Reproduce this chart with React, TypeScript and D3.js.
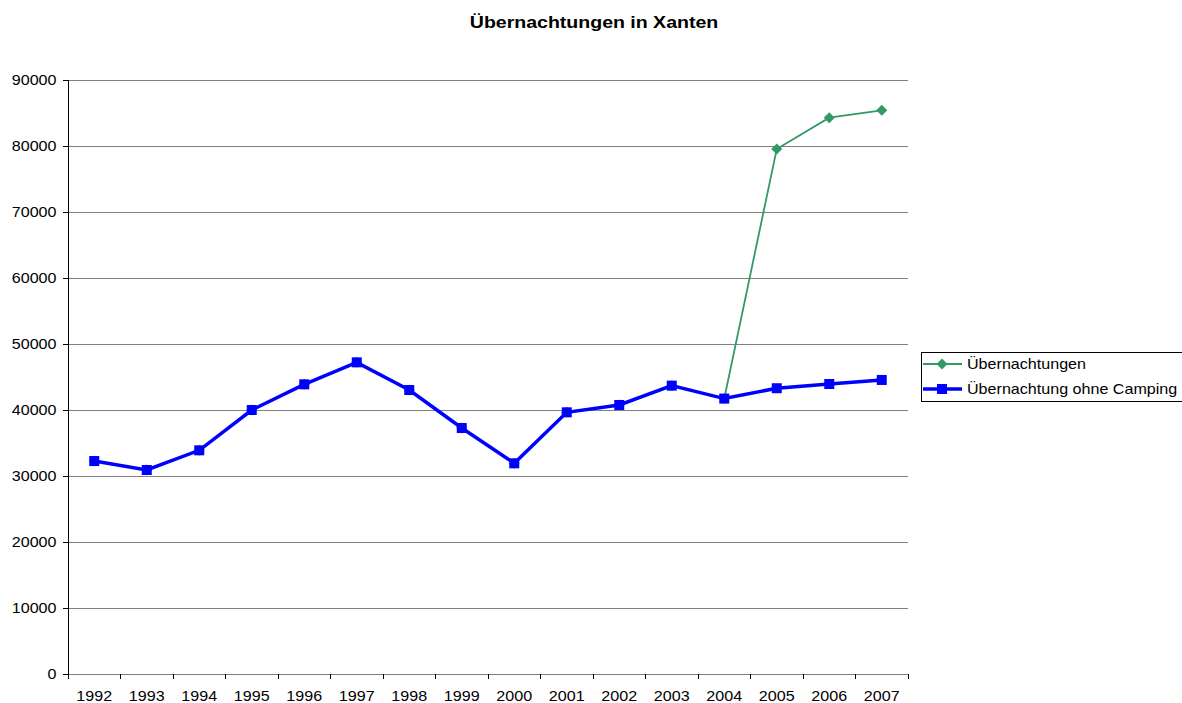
import { useRef, useEffect } from 'react';
import * as d3 from 'd3';

const years = ['1992', '1993', '1994', '1995', '1996', '1997', '1998', '1999', '2000', '2001', '2002', '2003', '2004', '2005', '2006', '2007'];
// total incl. camping; same as the other series until 2004
const uebernachtungen = [32270, 30910, 33890, 40000, 43890, 47220, 43030, 37270, 31920, 39650, 40760, 43690, 41730, 79550, 84290, 85400];
const ohneCamping = [32270, 30910, 33890, 40000, 43890, 47220, 43030, 37270, 31920, 39650, 40760, 43690, 41730, 43300, 43940, 44550];
const yTicks = [0, 10000, 20000, 30000, 40000, 50000, 60000, 70000, 80000, 90000];

const GREEN = '#339966';
const BLUE = '#0000FF';
const FONT = '"Liberation Sans", Arial, sans-serif';
const SX = 1.15; // the original text is a bit wider than Arial

export default function App() {
  const svgRef = useRef<SVGSVGElement>(null);

  useEffect(() => {
    const width = 1182, height = 703;
    const margin = { top: 80, right: 274, bottom: 29, left: 68 };
    const W = width - margin.left - margin.right;
    const H = height - margin.top - margin.bottom;

    const svg = d3.select(svgRef.current);
    svg.selectAll('*').remove();
    svg.attr('width', width).attr('height', height).style('font-family', FONT);

    svg.append('text')
      .attr('transform', `translate(594,28) scale(${SX},1)`)
      .attr('text-anchor', 'middle').attr('font-weight', 'bold').attr('font-size', 17)
      .text('Übernachtungen in Xanten');

    const g = svg.append('g').attr('transform', `translate(${margin.left},${margin.top})`);

    const x = d3.scaleBand().domain(years).range([0, W]);
    const y = d3.scaleLinear().domain([0, 90000]).range([H, 0]);
    const cx = (d: string) => (x(d) as number) + x.bandwidth() / 2;

    // Grid lines
    g.append('g').selectAll('line').data(yTicks.filter(t => t > 0)).enter().append('line')
      .attr('x1', 0).attr('x2', W)
      .attr('y1', d => y(d)).attr('y2', d => y(d))
      .attr('stroke', '#808080').attr('stroke-width', 1)
      .attr('shape-rendering', 'crispEdges');

    // Y axis
    const ya = g.append('g').call(d3.axisLeft(y).tickValues(yTicks).tickSize(5).tickPadding(5).tickFormat(d3.format('d')));
    ya.select('.domain').attr('stroke', '#000').attr('shape-rendering', 'crispEdges');
    ya.selectAll('.tick line').attr('stroke', '#000').attr('shape-rendering', 'crispEdges');
    ya.selectAll('text').attr('font-size', 14).attr('font-family', FONT).attr('fill', '#000')
      .attr('transform', `scale(${SX},1)`);

    // X axis with ticks at category boundaries
    const xa = g.append('g').attr('transform', `translate(0,${H})`)
      .call(d3.axisBottom(x).tickSize(0).tickPadding(17));
    xa.select('.domain').remove();
    xa.selectAll('text').attr('font-size', 14).attr('font-family', FONT).attr('fill', '#000')
      .attr('transform', `scale(${SX},1)`);
    g.append('line').attr('x1', 0).attr('x2', W).attr('y1', H).attr('y2', H)
      .attr('stroke', '#808080').attr('shape-rendering', 'crispEdges');
    g.append('line').attr('x1', 0).attr('x2', 0).attr('y1', H).attr('y2', H + 5)
      .attr('stroke', '#000').attr('shape-rendering', 'crispEdges');
    g.append('g').selectAll('line').data(years).enter().append('line')
      .attr('x1', d => (x(d) as number) + x.step()).attr('x2', d => (x(d) as number) + x.step())
      .attr('y1', H).attr('y2', H + 5)
      .attr('stroke', '#000').attr('shape-rendering', 'crispEdges');

    // Series: total (green) under, without camping (blue) on top
    const lineGen = d3.line<number>().x((_, i) => cx(years[i])).y(d => y(d));
    const diamond = 'M0,-5.5L5.5,0L0,5.5L-5.5,0Z';

    g.append('path').datum(uebernachtungen)
      .attr('d', lineGen).attr('fill', 'none').attr('stroke', GREEN).attr('stroke-width', 1.8);
    g.selectAll('.dia').data(uebernachtungen).enter().append('path')
      .attr('transform', (d, i) => `translate(${cx(years[i])},${y(d)})`)
      .attr('d', diamond).attr('fill', GREEN);

    g.append('path').datum(ohneCamping)
      .attr('d', lineGen).attr('fill', 'none').attr('stroke', BLUE).attr('stroke-width', 3.5);
    g.selectAll('.sq').data(ohneCamping).enter().append('rect')
      .attr('x', (_, i) => cx(years[i]) - 5).attr('y', d => y(d) - 5)
      .attr('width', 10).attr('height', 10).attr('fill', BLUE);

    // Legend
    const lg = svg.append('g').attr('transform', 'translate(921,352)');
    lg.append('rect').attr('x', 0.5).attr('y', 0.5).attr('width', 262).attr('height', 49)
      .attr('fill', '#fff').attr('stroke', '#000');
    const items = [
      { label: 'Übernachtungen', color: GREEN, w: 1.8, marker: 'diamond' },
      { label: 'Übernachtung ohne Camping', color: BLUE, w: 3.5, marker: 'square' },
    ];
    items.forEach((it, i) => {
      const yy = 12 + i * 25;
      lg.append('line').attr('x1', 2).attr('x2', 41).attr('y1', yy).attr('y2', yy)
        .attr('stroke', it.color).attr('stroke-width', it.w);
      if (it.marker === 'diamond') {
        lg.append('path').attr('transform', `translate(21,${yy})`).attr('d', diamond).attr('fill', it.color);
      } else {
        lg.append('rect').attr('x', 16).attr('y', yy - 5).attr('width', 10).attr('height', 10).attr('fill', it.color);
      }
      lg.append('text').attr('transform', `translate(46,${yy + 5}) scale(${SX},1)`)
        .attr('font-size', 14).text(it.label);
    });
  }, []);

  return <svg ref={svgRef} style={{ position: 'absolute', left: 0, top: 0, display: 'block' }} />;
}
